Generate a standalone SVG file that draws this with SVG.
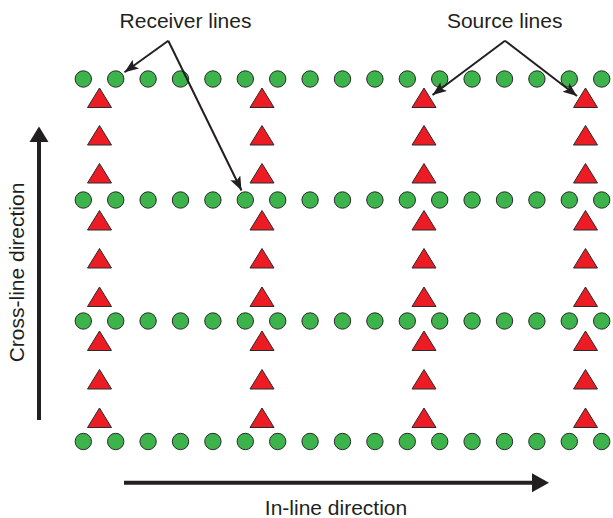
<svg xmlns="http://www.w3.org/2000/svg" xmlns:xlink="http://www.w3.org/1999/xlink" width="613" height="518" viewBox="0 0 613 518">
<defs>
<style>
.rc{fill:#3cb44b;stroke:#2b2b2b;stroke-width:1}
.src{fill:#ed1c24;stroke:#2b2b2b;stroke-width:1;stroke-linejoin:miter}
.lbl{font-family:"Liberation Sans",Arial,sans-serif;font-size:21px;fill:#231f20}
.ax{stroke:#231f20;stroke-width:4;fill:none}
.co{stroke:#231f20;stroke-width:2;fill:none}
</style>
<circle id="rcv" class="rc" r="8.2" cx="0" cy="0"/>
<polygon id="shot" class="src" points="0,0 12,19.5 -12,19.5"/>
<marker id="ah" markerUnits="userSpaceOnUse" markerWidth="16" markerHeight="12" refX="14" refY="5.5" orient="auto">
<path d="M0,0 L14,5.5 L0,11 L3,5.5 z" fill="#231f20"/>
</marker>
</defs>
<rect width="613" height="518" fill="#ffffff"/>

<g id="receiver-row-1">
<use xlink:href="#rcv" x="83.3" y="79"/><use xlink:href="#rcv" x="115.7" y="79"/><use xlink:href="#rcv" x="148.1" y="79"/><use xlink:href="#rcv" x="180.5" y="79"/><use xlink:href="#rcv" x="212.9" y="79"/><use xlink:href="#rcv" x="245.3" y="79"/><use xlink:href="#rcv" x="277.7" y="79"/><use xlink:href="#rcv" x="310.1" y="79"/><use xlink:href="#rcv" x="342.5" y="79"/><use xlink:href="#rcv" x="374.9" y="79"/><use xlink:href="#rcv" x="407.3" y="79"/><use xlink:href="#rcv" x="439.7" y="79"/><use xlink:href="#rcv" x="472.1" y="79"/><use xlink:href="#rcv" x="504.5" y="79"/><use xlink:href="#rcv" x="536.9" y="79"/><use xlink:href="#rcv" x="569.3" y="79"/><use xlink:href="#rcv" x="601.7" y="79"/>
</g>
<g id="receiver-row-2">
<use xlink:href="#rcv" x="83.3" y="200"/><use xlink:href="#rcv" x="115.7" y="200"/><use xlink:href="#rcv" x="148.1" y="200"/><use xlink:href="#rcv" x="180.5" y="200"/><use xlink:href="#rcv" x="212.9" y="200"/><use xlink:href="#rcv" x="245.3" y="200"/><use xlink:href="#rcv" x="277.7" y="200"/><use xlink:href="#rcv" x="310.1" y="200"/><use xlink:href="#rcv" x="342.5" y="200"/><use xlink:href="#rcv" x="374.9" y="200"/><use xlink:href="#rcv" x="407.3" y="200"/><use xlink:href="#rcv" x="439.7" y="200"/><use xlink:href="#rcv" x="472.1" y="200"/><use xlink:href="#rcv" x="504.5" y="200"/><use xlink:href="#rcv" x="536.9" y="200"/><use xlink:href="#rcv" x="569.3" y="200"/><use xlink:href="#rcv" x="601.7" y="200"/>
</g>
<g id="receiver-row-3">
<use xlink:href="#rcv" x="83.3" y="321"/><use xlink:href="#rcv" x="115.7" y="321"/><use xlink:href="#rcv" x="148.1" y="321"/><use xlink:href="#rcv" x="180.5" y="321"/><use xlink:href="#rcv" x="212.9" y="321"/><use xlink:href="#rcv" x="245.3" y="321"/><use xlink:href="#rcv" x="277.7" y="321"/><use xlink:href="#rcv" x="310.1" y="321"/><use xlink:href="#rcv" x="342.5" y="321"/><use xlink:href="#rcv" x="374.9" y="321"/><use xlink:href="#rcv" x="407.3" y="321"/><use xlink:href="#rcv" x="439.7" y="321"/><use xlink:href="#rcv" x="472.1" y="321"/><use xlink:href="#rcv" x="504.5" y="321"/><use xlink:href="#rcv" x="536.9" y="321"/><use xlink:href="#rcv" x="569.3" y="321"/><use xlink:href="#rcv" x="601.7" y="321"/>
</g>
<g id="receiver-row-4">
<use xlink:href="#rcv" x="83.3" y="441.5"/><use xlink:href="#rcv" x="115.7" y="441.5"/><use xlink:href="#rcv" x="148.1" y="441.5"/><use xlink:href="#rcv" x="180.5" y="441.5"/><use xlink:href="#rcv" x="212.9" y="441.5"/><use xlink:href="#rcv" x="245.3" y="441.5"/><use xlink:href="#rcv" x="277.7" y="441.5"/><use xlink:href="#rcv" x="310.1" y="441.5"/><use xlink:href="#rcv" x="342.5" y="441.5"/><use xlink:href="#rcv" x="374.9" y="441.5"/><use xlink:href="#rcv" x="407.3" y="441.5"/><use xlink:href="#rcv" x="439.7" y="441.5"/><use xlink:href="#rcv" x="472.1" y="441.5"/><use xlink:href="#rcv" x="504.5" y="441.5"/><use xlink:href="#rcv" x="536.9" y="441.5"/><use xlink:href="#rcv" x="569.3" y="441.5"/><use xlink:href="#rcv" x="601.7" y="441.5"/>
</g>

<g id="source-line-1">
<use xlink:href="#shot" x="99.5" y="88"/><use xlink:href="#shot" x="99.5" y="125.5"/><use xlink:href="#shot" x="99.5" y="163.5"/>
<use xlink:href="#shot" x="99.5" y="210.5"/><use xlink:href="#shot" x="99.5" y="248.5"/><use xlink:href="#shot" x="99.5" y="287"/>
<use xlink:href="#shot" x="99.5" y="331"/><use xlink:href="#shot" x="99.5" y="369.5"/><use xlink:href="#shot" x="99.5" y="408"/>
</g>
<g id="source-line-2">
<use xlink:href="#shot" x="262" y="88"/><use xlink:href="#shot" x="262" y="125.5"/><use xlink:href="#shot" x="262" y="163.5"/>
<use xlink:href="#shot" x="262" y="210.5"/><use xlink:href="#shot" x="262" y="248.5"/><use xlink:href="#shot" x="262" y="287"/>
<use xlink:href="#shot" x="262" y="331"/><use xlink:href="#shot" x="262" y="369.5"/><use xlink:href="#shot" x="262" y="408"/>
</g>
<g id="source-line-3">
<use xlink:href="#shot" x="424" y="88"/><use xlink:href="#shot" x="424" y="125.5"/><use xlink:href="#shot" x="424" y="163.5"/>
<use xlink:href="#shot" x="424" y="210.5"/><use xlink:href="#shot" x="424" y="248.5"/><use xlink:href="#shot" x="424" y="287"/>
<use xlink:href="#shot" x="424" y="331"/><use xlink:href="#shot" x="424" y="369.5"/><use xlink:href="#shot" x="424" y="408"/>
</g>
<g id="source-line-4">
<use xlink:href="#shot" x="585.5" y="88"/><use xlink:href="#shot" x="585.5" y="125.5"/><use xlink:href="#shot" x="585.5" y="163.5"/>
<use xlink:href="#shot" x="585.5" y="210.5"/><use xlink:href="#shot" x="585.5" y="248.5"/><use xlink:href="#shot" x="585.5" y="287"/>
<use xlink:href="#shot" x="585.5" y="331"/><use xlink:href="#shot" x="585.5" y="369.5"/><use xlink:href="#shot" x="585.5" y="408"/>
</g>

<g id="connectors">
<path class="co" d="M168.3,40.7 L124.5,72.3" marker-end="url(#ah)"/>
<path class="co" d="M168.3,40.7 L241.5,190.5" marker-end="url(#ah)"/>
<path class="co" d="M505,40.7 L432.5,95" marker-end="url(#ah)"/>
<path class="co" d="M505,40.7 L577,96" marker-end="url(#ah)"/>
</g>

<g id="axis-crossline">
<line class="ax" x1="39" y1="420" x2="39" y2="140"/>
<polygon points="39,126.5 29.5,142 48.5,142" fill="#231f20"/>
<text class="lbl" transform="translate(24,272.5) rotate(-90)" text-anchor="middle">Cross-line direction</text>
</g>
<g id="axis-inline">
<line class="ax" x1="124" y1="482.7" x2="534" y2="482.7"/>
<polygon points="549,482.7 532,473.2 532,492.2" fill="#231f20"/>
<text class="lbl" x="336" y="515" text-anchor="middle">In-line direction</text>
</g>

<g id="label-receiver"><text class="lbl" x="185.5" y="28.3" text-anchor="middle">Receiver lines</text></g>
<g id="label-source"><text class="lbl" x="504.7" y="28.3" text-anchor="middle">Source lines</text></g>
</svg>
